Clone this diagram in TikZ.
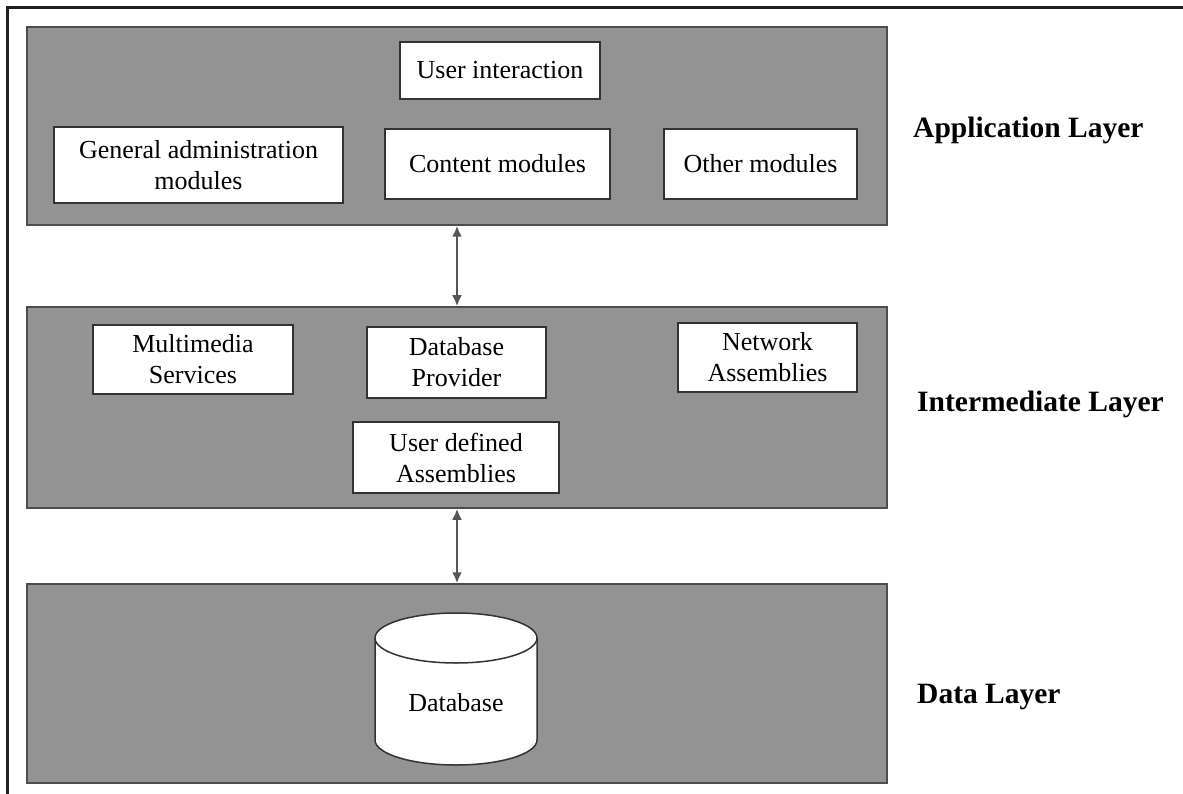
\documentclass[tikz,border=0pt]{standalone}
\usepackage{fontspec}
\setmainfont{Liberation Serif}
\usetikzlibrary{arrows.meta}
\definecolor{panelfill}{HTML}{939393}
\definecolor{panelline}{HTML}{4D4D4D}
\definecolor{boxline}{HTML}{333333}
\definecolor{frameline}{HTML}{222222}
\definecolor{arrowline}{HTML}{555555}
\begin{document}
\begin{tikzpicture}[x=1pt,y=-1pt,
  panel/.style={draw=panelline, line width=1.5pt, fill=panelfill, inner sep=0pt,
    minimum width=860pt},
  box/.style={draw=boxline, line width=1.5pt, fill=white, align=center, inner sep=0pt,
    font=\fontsize{26}{31}\selectfont},
  layerlabel/.style={anchor=west, inner sep=0pt, font=\fontsize{29.5}{34}\selectfont\bfseries},
  link/.style={draw=arrowline, line width=2.4pt,
    {Latex[length=11pt,width=10pt]}-{Latex[length=11pt,width=10pt]}}]
\useasboundingbox (0,0) rectangle (1183,794);
\fill[white] (0,0) rectangle (1183,794);
% outer frame
\draw[frameline, line width=3pt] (7,794) -- (7,8) -- (1183,8);

% layer panels
\node[panel, minimum height=198pt] (app)  at (457,126)   {};
\node[panel, minimum height=201pt] (mid)  at (457,407.5) {};
\node[panel, minimum height=199pt] (data) at (457,683.5) {};

% application layer modules
\node[box, minimum width=200pt, minimum height=57pt] (ui)      at (500,70.5)  {User interaction};
\node[box, minimum width=289pt, minimum height=76pt] (admin)   at (198.5,165) {General administration\\modules};
\node[box, minimum width=225pt, minimum height=70pt] (content) at (497.5,164) {Content modules};
\node[box, minimum width=193pt, minimum height=70pt] (other)   at (760.5,164) {Other modules};

% intermediate layer components
\node[box, minimum width=200pt, minimum height=69pt] (mm)   at (193,359.5)   {Multimedia\\Services};
\node[box, minimum width=179pt, minimum height=71pt] (dbp)  at (456.5,362.5) {Database\\Provider};
\node[box, minimum width=179pt, minimum height=69pt] (net)  at (767.5,357.5) {Network\\Assemblies};
\node[box, minimum width=206pt, minimum height=71pt] (udef) at (456,457.5)   {User defined\\Assemblies};

% database cylinder
\filldraw[fill=white, draw=boxline, line width=1.5pt]
  (375,638) -- (375,740) arc[start angle=180, end angle=360, x radius=81pt, y radius=25pt]
  -- (537,638) arc[start angle=0, end angle=180, x radius=81pt, y radius=25pt] -- cycle;
\draw[boxline, line width=1.5pt]
  (375,638) arc[start angle=180, end angle=360, x radius=81pt, y radius=25pt];
\node[font=\fontsize{26}{31}\selectfont, inner sep=0pt] (db) at (456,703) {Database};

% layer names
\node[layerlabel] (applabel)  at (913,130) {Application Layer};
\node[layerlabel] (midlabel)  at (917,404) {Intermediate Layer};
\node[layerlabel] (datalabel) at (917,697) {Data Layer};

% links between layers
\draw[link] (app.south) -- (mid.north);
\draw[link] (mid.south) -- (data.north);
\end{tikzpicture}
\end{document}
